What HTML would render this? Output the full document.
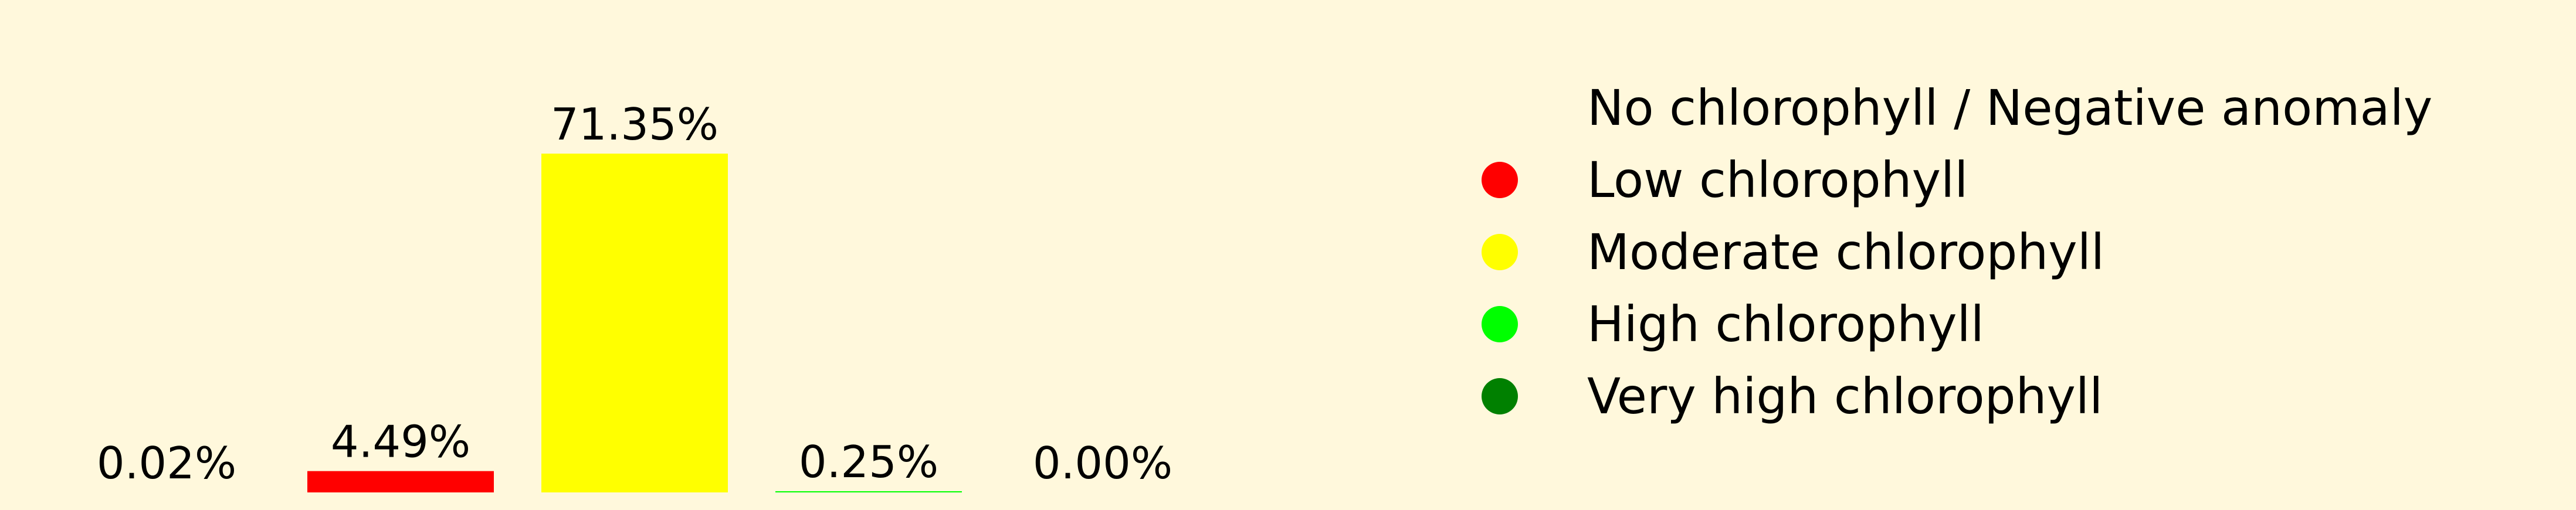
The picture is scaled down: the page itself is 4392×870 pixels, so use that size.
<!DOCTYPE html>
<html><head><meta charset="utf-8"><style>
html,body{margin:0;padding:0;background:#FFF8DC;}
svg{display:block;font-family:"DejaVu Sans","Liberation Sans",sans-serif;}
</style></head><body>
<svg id="chart" width="4392" height="870" viewBox="0 0 4392 870">
<rect width="4392" height="870" fill="#FFF8DC"/>
<g id="bars"></g>
<g id="legend"></g>
</svg>
<script>
const categories = ["No chlorophyll / Negative anomaly","Low chlorophyll","Moderate chlorophyll","High chlorophyll","Very high chlorophyll"];
const values = [0.02, 4.49, 71.35, 0.25, 0.00];
const labels = ["0.02%","4.49%","71.35%","0.25%","0.00%"];
const colors = ["#FFF8DC","#FF0000","#FFFF00","#00FF00","#008000"];

const NS="http://www.w3.org/2000/svg";
const baseY=840, pxPerUnit=8.1, x0=284, step=399, barW=318;
function xScale(i){return x0+i*step;}
function yScale(v){return baseY-v*pxPerUnit;}

const gb=document.getElementById('bars');
values.forEach((v,i)=>{
  const r=document.createElementNS(NS,'rect');
  const top=yScale(v);
  r.setAttribute('x',xScale(i)-barW/2);
  r.setAttribute('y',top);
  r.setAttribute('width',barW);
  r.setAttribute('height',Math.max(0,baseY-top));
  r.setAttribute('fill',colors[i]);
  
  
  gb.appendChild(r);
  const t=document.createElementNS(NS,'text');
  t.setAttribute('x',xScale(i));
  t.setAttribute('y',top-24);
  t.setAttribute('text-anchor','middle');
  t.setAttribute('font-size','75');
  t.setAttribute('fill','#000');
  t.textContent=labels[i];
  
  
  gb.appendChild(t);
});

const gl=document.getElementById('legend');
categories.forEach((c,i)=>{
  const cy=184+i*123;
  const ci=document.createElementNS(NS,'circle');
  ci.setAttribute('cx',2557);
  ci.setAttribute('cy',cy);
  ci.setAttribute('r',31);
  ci.setAttribute('fill',colors[i]);
  
  
  gl.appendChild(ci);
  const t=document.createElementNS(NS,'text');
  t.setAttribute('x',2706);
  t.setAttribute('y',cy+29);
  t.setAttribute('font-size','83.5');
  t.setAttribute('fill','#000');
  t.textContent=c;
  
  
  gl.appendChild(t);
});
</script>
</body></html>
